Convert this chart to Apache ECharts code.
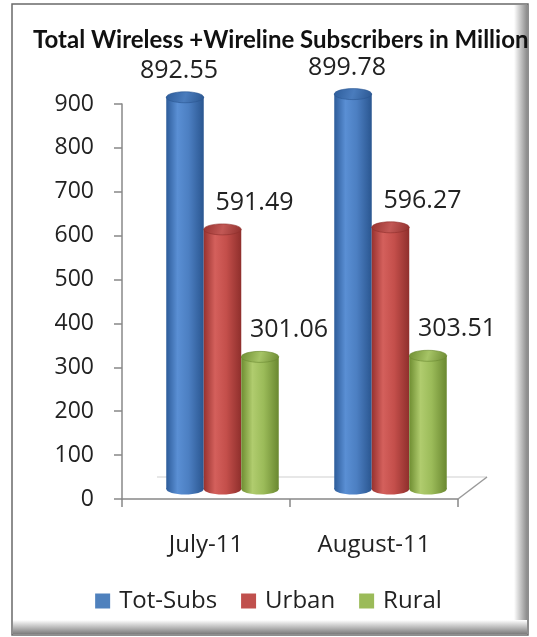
<!DOCTYPE html>
<html>
<head>
<meta charset="utf-8">
<script src="https://cdn.jsdelivr.net/npm/echarts@6/dist/echarts.min.js"></script>
<style>
html,body{margin:0;padding:0;background:#fff;}
#c{width:537px;height:637px;}
</style>
</head>
<body>
<div id="c"></div>
<script>
// ---- data ----
const titleText = 'Total Wireless +Wireline Subscribers in Million';
const categories = ['July-11', 'August-11'];
const seriesNames = ['Tot-Subs', 'Urban', 'Rural'];
const totSubs = [892.55, 899.78];
const urban = [591.49, 596.27];
const rural = [301.06, 303.51];
const yTicks = [0, 100, 200, 300, 400, 500, 600, 700, 800, 900];

// ---- styles ----
const GRID = {left: 122, right: 79, top: 104, bottom: 138};
const BAR_W = 37.5;
const DEPTH_X = 16.5, DEPTH_Y = 10, RY = 5.5;
const LABEL_DX = [-6, 32, 29];
const palette = [
  {base: '#4F81BD', stops: ['#2d5c9a', '#5a8fd4', '#4c7fc2', '#2a5690'], top: '#4a7cbd'},
  {base: '#C0504D', stops: ['#97322f', '#d4605c', '#c44f4b', '#8f2f2c'], top: '#c25855'},
  {base: '#9BBB59', stops: ['#6e8d31', '#b0cc6e', '#9bbb59', '#6a8830'], top: '#a6c466'}
];
const seriesData = [totSubs, urban, rural];
const FONT = '"Open Sans", sans-serif';

function grad(st) {
  return new echarts.graphic.LinearGradient(0, 0, 1, 0, [
    {offset: 0, color: st[0]}, {offset: 0.3, color: st[1]},
    {offset: 0.6, color: st[2]}, {offset: 1, color: st[3]}
  ]);
}

function makeRender(si) {
  return function (params, api) {
    const cat = api.value(0), v = api.value(1);
    const p = api.coord([cat, v]);
    const p0 = api.coord([cat, 0]);
    const cx = p[0] + DEPTH_X + (si - 1) * BAR_W;
    const yTop = p[1] - DEPTH_Y, yBot = p0[1] - DEPTH_Y;
    const rx = BAR_W / 2;
    const pal = palette[si];
    return {
      type: 'group',
      children: [
        {type: 'ellipse', shape: {cx: cx, cy: yBot, rx: rx, ry: RY}, style: {fill: grad(pal.stops)}},
        {type: 'rect', shape: {x: cx - rx, y: yTop, width: BAR_W, height: yBot - yTop}, style: {fill: grad(pal.stops)}},
        {type: 'ellipse', shape: {cx: cx, cy: yTop, rx: rx, ry: RY},
          style: {fill: new echarts.graphic.LinearGradient(0, 0, 1, 1, [
            {offset: 0, color: pal.stops[0]}, {offset: 0.5, color: pal.top}, {offset: 1, color: pal.stops[3]}]),
            stroke: pal.stops[3], lineWidth: 0.6}},
        {type: 'text', style: {text: v.toFixed(2), x: cx + LABEL_DX[si], y: yTop - RY - 21,
          align: 'center', verticalAlign: 'middle', fill: '#222',
          font: '25px ' + FONT}}
      ]
    };
  };
}

const chart = echarts.init(document.getElementById('c'), null, {renderer: 'canvas'});

const x0 = GRID.left, x1 = 537 - GRID.right, y0 = 637 - GRID.bottom;

const option = {
  animation: false,
  title: {
    text: titleText, top: 28, left: 33, padding: 0,
    textStyle: {fontFamily: 'Lato, sans-serif', fontWeight: 'bold', fontSize: 24, color: '#111'}
  },
  legend: {
    data: seriesNames, bottom: 19, left: 'center',
    icon: 'rect', itemWidth: 15, itemHeight: 15, itemGap: 24,
    textStyle: {fontFamily: FONT, fontSize: 24, color: '#222', padding: [0, 0, 0, 4]}
  },
  grid: GRID,
  xAxis: {
    type: 'category', data: categories,
    axisLine: {lineStyle: {color: '#888', width: 1.5}},
    axisTick: {show: true, length: 8, lineStyle: {color: '#888', width: 1.5}},
    axisLabel: {fontFamily: FONT, fontSize: 24, color: '#222', margin: 34}
  },
  yAxis: {
    type: 'value', min: yTicks[0], max: yTicks[yTicks.length - 1], interval: yTicks[1] - yTicks[0],
    axisLine: {show: true, lineStyle: {color: '#888', width: 1.5}},
    axisTick: {show: true, length: 8, lineStyle: {color: '#888', width: 1.5}},
    splitLine: {show: false},
    axisLabel: {fontFamily: FONT, fontSize: 23, color: '#222', margin: 28}
  },
  graphic: [
    {type: 'rect', z: -10, shape: {x: 12, y: 4, width: 516, height: 631}, style: {fill: '#fff', stroke: '#6a6a6a', lineWidth: 1.5}},
    {type: 'rect', z: -9, shape: {x: 514, y: 5, width: 13, height: 629},
      style: {fill: new echarts.graphic.LinearGradient(0, 0, 1, 0, [{offset: 0, color: '#ffffff'}, {offset: 1, color: '#8c8c8c'}])}},
    {type: 'rect', z: -9, shape: {x: 13, y: 620, width: 514, height: 14},
      style: {fill: new echarts.graphic.LinearGradient(0, 0, 0, 1, [{offset: 0, color: '#ffffff'}, {offset: 1, color: '#7c7c7c'}])}},
    {type: 'line', z: 1, shape: {x1: x0 + 35, y1: y0 - 22, x2: x1 + 29, y2: y0 - 22}, style: {stroke: '#cfcfcf', lineWidth: 1}},
    {type: 'line', z: 1, shape: {x1: x1, y1: y0, x2: x1 + 29, y2: y0 - 22}, style: {stroke: '#999', lineWidth: 1.5}}
  ],
  series: seriesNames.map(function (name, si) {
    return {
      type: 'custom', name: name,
      itemStyle: {color: palette[si].base},
      renderItem: makeRender(si),
      encode: {x: 0, y: 1},
      data: seriesData[si].map(function (v, ci) { return [ci, v]; }),
      z: 5
    };
  })
};
chart.setOption(option);
</script>
</body>
</html>
